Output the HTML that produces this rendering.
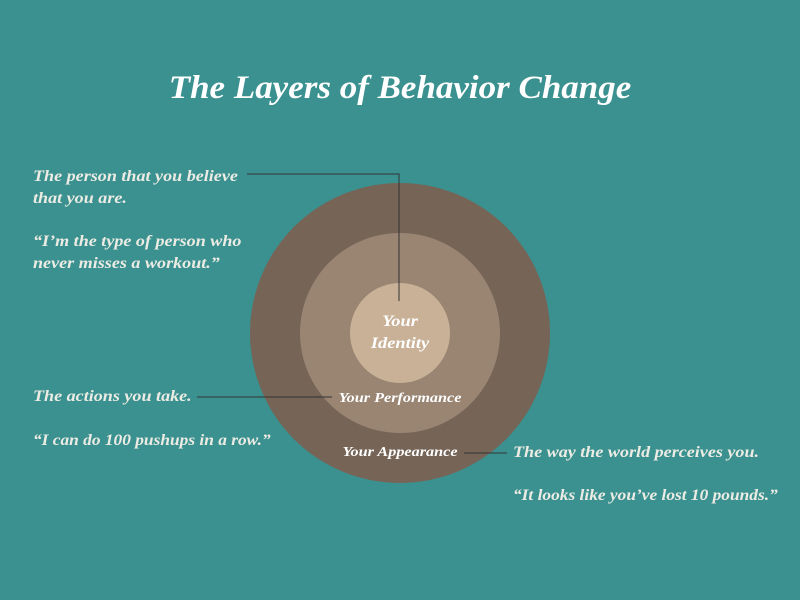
<!DOCTYPE html>
<html><head><meta charset="utf-8"><style>
html,body{margin:0;padding:0;}
body{width:800px;height:600px;background:#3a918f;position:relative;overflow:hidden;font-family:"Liberation Serif",serif;}
.t{position:absolute;color:#ecebe4;font-style:italic;font-weight:bold;white-space:nowrap;}
.s{transform:scaleX(1.13);transform-origin:left top;}
.q{transform:scaleX(1.085);transform-origin:left top;}
</style></head><body>
<svg width="800" height="600" style="position:absolute;left:0;top:0">
<circle cx="400" cy="333" r="150" fill="#766456"/>
<circle cx="400" cy="333" r="100" fill="#9a8573"/>
<circle cx="400" cy="333" r="50" fill="#c8b197"/>
<polyline points="247,174 399,174 399,301" fill="none" stroke="#333" stroke-width="1"/>
<line x1="197" y1="397" x2="332" y2="397" stroke="#333" stroke-width="1"/>
<line x1="464" y1="453" x2="507" y2="453" stroke="#333" stroke-width="1"/>
</svg>
<div class="t" style="left:0;width:800px;text-align:center;top:70px;font-size:33px;color:#fff;transform:scaleX(1.06);transform-origin:center top">The Layers of Behavior Change</div>
<div class="t s" style="left:33px;top:166px;font-size:16px;line-height:22px">The person that you believe<br>that you are.</div>
<div class="t s" style="left:33px;top:231px;font-size:16px;line-height:22px">“I’m the type of person who<br>never misses a workout.”</div>
<div class="t s" style="left:33px;top:388px;font-size:16px">The actions you take.</div>
<div class="t q" style="left:33px;top:432px;font-size:16px">“I can do 100 pushups in a row.”</div>
<div class="t s" style="left:513px;top:444px;font-size:16px">The way the world perceives you.</div>
<div class="t q" style="left:513px;top:487px;font-size:16px">“It looks like you’ve lost 10 pounds.”</div>
<div class="t" style="left:350px;width:100px;text-align:center;top:311px;font-size:16px;line-height:22px;color:#fff;transform:scaleX(1.15);transform-origin:center top">Your<br>Identity</div>
<div class="t" style="left:320px;width:160px;text-align:center;top:390px;font-size:13.5px;color:#fff;transform:scaleX(1.2);transform-origin:center top">Your Performance</div>
<div class="t" style="left:320px;width:160px;text-align:center;top:444px;font-size:13.5px;color:#fff;transform:scaleX(1.2);transform-origin:center top">Your Appearance</div>
</body></html>
